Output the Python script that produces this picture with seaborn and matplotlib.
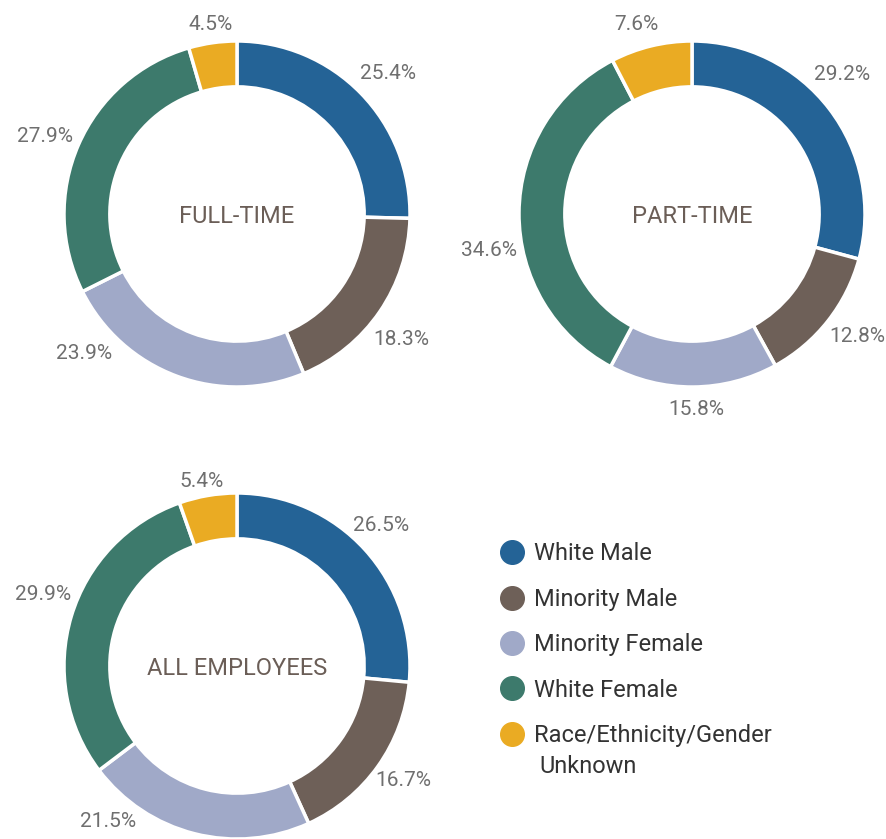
import numpy as np
import matplotlib
matplotlib.use("Agg")
import matplotlib.pyplot as plt
from matplotlib.lines import Line2D
import seaborn as sns

categories = ["White Male", "Minority Male", "Minority Female", "White Female",
              "Race/Ethnicity/Gender"]
extra_line = "Unknown"
full_time = [25.4, 18.3, 23.9, 27.9, 4.5]
part_time = [29.2, 12.8, 15.8, 34.6, 7.6]
all_employees = [26.5, 16.7, 21.5, 29.9, 5.4]
titles = ["FULL-TIME", "PART-TIME", "ALL EMPLOYEES"]

colors = ["#246396", "#6e6058", "#a0a9c8", "#3d7a6c", "#eaab23"]

sns.set_theme(style="white")
plt.rcParams["font.family"] = ["Roboto", "DejaVu Sans"]

W, H = 887, 839
fig = plt.figure(figsize=(W / 100, H / 100), dpi=100)

R_PX = 173      # outer radius in pixels
HALF = 220      # half axes size in pixels
# donut centres in pixels (x, y from top)
centres = [(237, 214), (692, 214), (237, 666)]
# label placement tweaks: (angular nudge in deg clockwise, radius)
tweaks = [
    [(1, 1.20), (2.5, 1.19), (27.8, 1.19), (-1, 1.20), (0.3, 1.12)],
    [(-5.8, 1.19), (-2, 1.18), (-0.8, 1.12), (-10, 1.19), (-2.5, 1.15)],
    [(-2.5, 1.17), (-1.4, 1.16), (25.7, 1.16), (4, 1.20), (-1, 1.10)],
]

for vals, title, (cx, cy), tw in zip([full_time, part_time, all_employees],
                                     titles, centres, tweaks):
    ax = fig.add_axes([(cx - HALF) / W, (H - cy - HALF) / H, 2 * HALF / W, 2 * HALF / H])
    ax.set_facecolor("none")
    ax.pie(vals, colors=colors, startangle=90, counterclock=False, radius=1,
           wedgeprops=dict(width=0.265, edgecolor="white", linewidth=2.5))
    lim = HALF / R_PX
    ax.set_xlim(-lim, lim)
    ax.set_ylim(-lim, lim)
    ax.set_aspect("equal")
    ax.axis("off")

    cum = np.cumsum([0] + vals[:-1])
    total = sum(vals)
    for v, c, (dn, r) in zip(vals, cum, tw):
        ang = np.deg2rad((c + v / 2) / total * 360 + dn)
        ax.text(r * np.sin(ang), r * np.cos(ang), f"{v:.1f}%",
                ha="center", va="center_baseline", fontsize=15, color="#6f6f6f",
                clip_on=False)
    ax.text(0, 0, title, ha="center", va="center_baseline", fontsize=17, color="#6b5e57")

handles = [Line2D([0], [0], marker="o", linestyle="none", markersize=17,
                  markerfacecolor=c, markeredgecolor=c) for c in colors]
leg = fig.legend(handles, categories, loc="upper left",
                 bbox_to_anchor=(488 / W, 1 - 533 / H), frameon=False,
                 fontsize=17, labelspacing=0.95, handletextpad=0.35,
                 handlelength=1.2, borderaxespad=0)
for t in leg.get_texts():
    t.set_color("#333333")

# second line of the last legend entry
fig.canvas.draw()
bb = leg.get_texts()[-1].get_window_extent().transformed(fig.transFigure.inverted())
fig.text(bb.x0 + 5 / W, bb.y0 - 8 / H, extra_line, ha="left", va="top",
         fontsize=17, color="#333333")

fig.savefig("out.png", dpi=100)
